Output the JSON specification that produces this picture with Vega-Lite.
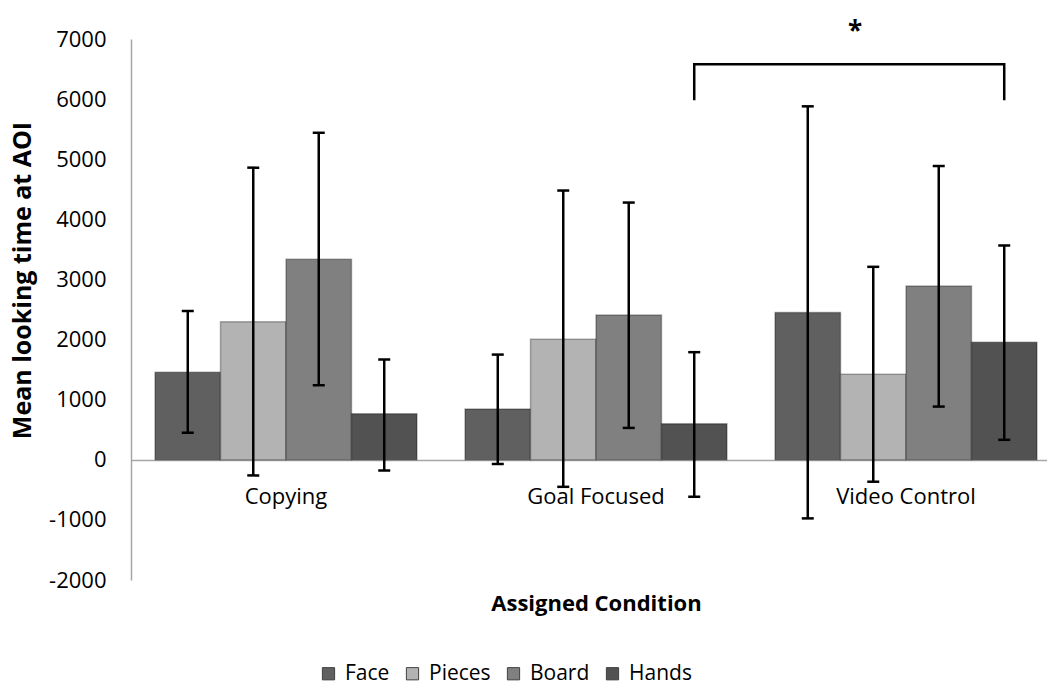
{
  "$schema": "https://vega.github.io/schema/vega-lite/v6.json",
  "autosize": {"type": "none"},
  "padding": {"left": 131, "top": 39, "right": 0, "bottom": 106},
  "width": 930,
  "height": 541,
  "background": "white",
  "config": {
    "font": "Open Sans",
    "view": {"stroke": null},
    "axis": {"grid": false}
  },
  "datasets": {
    "looking": [
      {"condition": "Copying", "aoi": "Face", "mean": 1456, "lo": 450, "hi": 2475},
      {"condition": "Copying", "aoi": "Pieces", "mean": 2297, "lo": -260, "hi": 4860},
      {"condition": "Copying", "aoi": "Board", "mean": 3338, "lo": 1240, "hi": 5440},
      {"condition": "Copying", "aoi": "Hands", "mean": 765, "lo": -180, "hi": 1670},
      {"condition": "Goal Focused", "aoi": "Face", "mean": 845, "lo": -70, "hi": 1750},
      {"condition": "Goal Focused", "aoi": "Pieces", "mean": 2004, "lo": -450, "hi": 4479},
      {"condition": "Goal Focused", "aoi": "Board", "mean": 2408, "lo": 530, "hi": 4279},
      {"condition": "Goal Focused", "aoi": "Hands", "mean": 600, "lo": -615, "hi": 1790},
      {"condition": "Video Control", "aoi": "Face", "mean": 2452, "lo": -975, "hi": 5880},
      {"condition": "Video Control", "aoi": "Pieces", "mean": 1423, "lo": -365, "hi": 3210},
      {"condition": "Video Control", "aoi": "Board", "mean": 2889, "lo": 885, "hi": 4887},
      {"condition": "Video Control", "aoi": "Hands", "mean": 1955, "lo": 332, "hi": 3565}
    ],
    "bracket": [
      {"condition": "Goal Focused", "aoi": "Hands", "y": 5980, "step": 1},
      {"condition": "Goal Focused", "aoi": "Hands", "y": 6580, "step": 2},
      {"condition": "Video Control", "aoi": "Hands", "y": 6580, "step": 3},
      {"condition": "Video Control", "aoi": "Hands", "y": 5980, "step": 4}
    ],
    "sig": [
      {"condition": "Video Control", "y": 7226, "label": "*"}
    ]
  },
  "encoding": {
    "x": {
      "field": "condition",
      "type": "nominal",
      "sort": ["Copying", "Goal Focused", "Video Control"],
      "scale": {"paddingInner": 0.155, "paddingOuter": 0.0775},
      "axis": {
        "title": "Assigned Condition",
        "orient": "bottom",
        "offset": -120,
        "ticks": false,
        "tickSize": 0,
        "labelAngle": 0,
        "labelFontSize": 22,
        "labelColor": "#000000",
        "labelBaseline": "alphabetic",
        "labelPadding": 43,
        "domainColor": "#a6a6a6",
        "domainWidth": 1.5,
        "titleFontSize": 22,
        "titleFontWeight": "bold",
        "titleColor": "#000000",
        "titleY": 143,
        "titleBaseline": "middle"
      }
    }
  },
  "layer": [
    {
      "data": {"name": "looking"},
      "mark": {"type": "bar", "stroke": "#000000", "strokeOpacity": 0.3, "strokeWidth": 1.5},
      "encoding": {
        "xOffset": {
          "field": "aoi",
          "type": "nominal",
          "sort": ["Face", "Pieces", "Board", "Hands"],
          "scale": {"paddingInner": 0, "paddingOuter": 0}
        },
        "y": {
          "field": "mean",
          "type": "quantitative",
          "scale": {"domain": [-2000, 7000], "nice": false, "zero": false},
          "axis": {
            "title": "Mean looking time at AOI",
            "values": [-2000, -1000, 0, 1000, 2000, 3000, 4000, 5000, 6000, 7000],
            "labelExpr": "'' + datum.value",
            "ticks": false,
            "tickSize": 0,
            "labelPadding": 25,
            "labelFontSize": 22,
            "labelColor": "#000000",
            "domainColor": "#a6a6a6",
            "domainWidth": 1.5,
            "titleFontSize": 25,
            "titleFontWeight": "bold",
            "titleColor": "#000000",
            "titleAngle": 270,
            "titleX": -109,
            "titleY": 241,
            "titleAlign": "center",
            "titleBaseline": "middle"
          }
        },
        "color": {
          "field": "aoi",
          "type": "nominal",
          "sort": ["Face", "Pieces", "Board", "Hands"],
          "scale": {
            "domain": ["Face", "Pieces", "Board", "Hands"],
            "range": ["#606060", "#b3b3b3", "#808080", "#525252"]
          },
          "legend": {
            "title": null,
            "orient": "none",
            "legendX": 187,
            "legendY": 624,
            "direction": "horizontal",
            "padding": 0,
            "labelFontSize": 21,
            "labelColor": "#000000",
            "labelOffset": 6,
            "columnPadding": 12,
            "symbolType": "square",
            "symbolSize": 150,
            "symbolStrokeWidth": 1,
            "symbolStrokeColor": "#404040",
            "symbolOpacity": 1
          }
        }
      }
    },
    {
      "data": {"name": "looking"},
      "mark": {"type": "rule", "color": "#000000", "strokeWidth": 2.5},
      "encoding": {
        "xOffset": {"field": "aoi", "type": "nominal", "sort": ["Face", "Pieces", "Board", "Hands"]},
        "y": {"field": "lo", "type": "quantitative"},
        "y2": {"field": "hi"}
      }
    },
    {
      "data": {"name": "looking"},
      "mark": {"type": "tick", "color": "#000000", "size": 12, "thickness": 2.5, "opacity": 1},
      "encoding": {
        "xOffset": {"field": "aoi", "type": "nominal", "sort": ["Face", "Pieces", "Board", "Hands"]},
        "y": {"field": "lo", "type": "quantitative"}
      }
    },
    {
      "data": {"name": "looking"},
      "mark": {"type": "tick", "color": "#000000", "size": 12, "thickness": 2.5, "opacity": 1},
      "encoding": {
        "xOffset": {"field": "aoi", "type": "nominal", "sort": ["Face", "Pieces", "Board", "Hands"]},
        "y": {"field": "hi", "type": "quantitative"}
      }
    },
    {
      "data": {"name": "bracket"},
      "mark": {"type": "line", "color": "#000000", "strokeWidth": 2.5, "strokeJoin": "miter", "strokeCap": "butt"},
      "encoding": {
        "xOffset": {"field": "aoi", "type": "nominal", "sort": ["Face", "Pieces", "Board", "Hands"]},
        "y": {"field": "y", "type": "quantitative"},
        "order": {"field": "step", "type": "quantitative"}
      }
    },
    {
      "data": {"name": "sig"},
      "mark": {"type": "text", "fontSize": 26, "fontWeight": "bold", "color": "#000000", "dx": -51, "dy": 7, "baseline": "middle"},
      "encoding": {
        "y": {"field": "y", "type": "quantitative"},
        "text": {"field": "label"}
      }
    }
  ]
}
